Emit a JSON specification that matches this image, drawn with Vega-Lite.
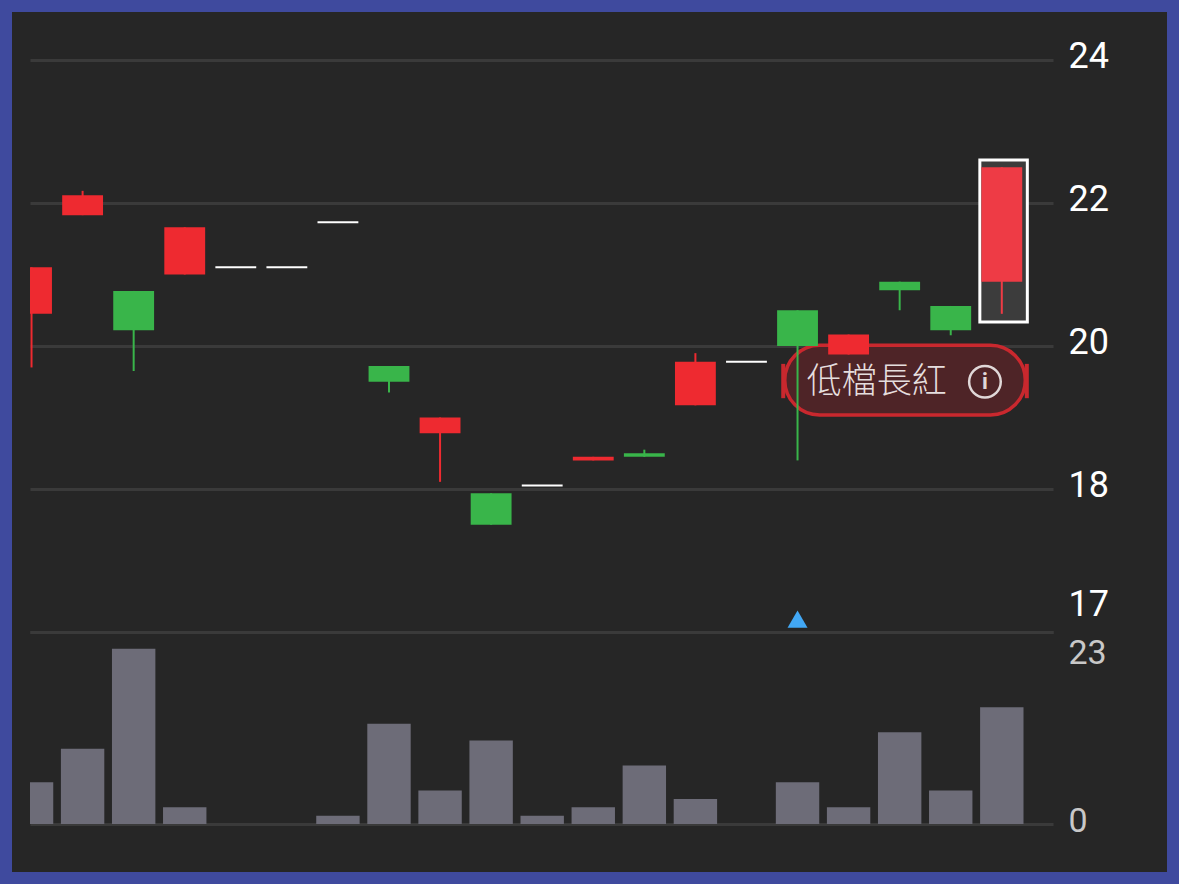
{
"$schema":"https://vega.github.io/schema/vega-lite/v6.json",
"width":1155,"height":860,"padding":12,"autosize":{"type":"none"},
"background":"#3f4a9e",
"view":{"fill":"#262626","stroke":null},
"config":{"font":"Roboto"},
"datasets":{
"candles":[
{"i":0,"open":20.45,"close":21.1,"high":21.1,"low":19.7,"kind":"up","volume":5},
{"i":1,"open":21.83,"close":22.11,"high":22.17,"low":21.83,"kind":"up","volume":9},
{"i":2,"open":20.77,"close":20.22,"high":20.77,"low":19.65,"kind":"down","volume":21},
{"i":3,"open":21.0,"close":21.66,"high":21.66,"low":21.0,"kind":"up","volume":2},
{"i":4,"open":21.1,"close":21.1,"high":21.1,"low":21.1,"kind":"flat","volume":0},
{"i":5,"open":21.1,"close":21.1,"high":21.1,"low":21.1,"kind":"flat","volume":0},
{"i":6,"open":21.73,"close":21.73,"high":21.73,"low":21.73,"kind":"flat","volume":1},
{"i":7,"open":19.72,"close":19.5,"high":19.72,"low":19.35,"kind":"down","volume":12},
{"i":8,"open":18.78,"close":19.0,"high":19.0,"low":18.1,"kind":"up","volume":4},
{"i":9,"open":17.97,"close":17.75,"high":17.97,"low":17.75,"kind":"down","volume":10},
{"i":10,"open":18.05,"close":18.05,"high":18.05,"low":18.05,"kind":"flat","volume":1},
{"i":11,"open":18.4,"close":18.45,"high":18.45,"low":18.4,"kind":"up","volume":2},
{"i":12,"open":18.5,"close":18.45,"high":18.55,"low":18.45,"kind":"down","volume":7},
{"i":13,"open":19.17,"close":19.78,"high":19.9,"low":19.17,"kind":"up","volume":3},
{"i":14,"open":19.78,"close":19.78,"high":19.78,"low":19.78,"kind":"flat","volume":0},
{"i":15,"open":20.5,"close":20.0,"high":20.5,"low":18.4,"kind":"down","volume":5},
{"i":16,"open":19.88,"close":20.16,"high":20.16,"low":19.88,"kind":"up","volume":2},
{"i":17,"open":20.9,"close":20.78,"high":20.9,"low":20.5,"kind":"down","volume":11},
{"i":18,"open":20.56,"close":20.22,"high":20.56,"low":20.15,"kind":"down","volume":4},
{"i":19,"open":20.9,"close":22.5,"high":22.5,"low":20.45,"kind":"signal","volume":14}
]},
"resolve":{"scale":{"y":"independent"},"axis":{"y":"independent"}},
"layer":[
{
"layer":[
{"data":{"values":[{"left":18.57,"right":19.5,"top":22.6,"bottom":20.335}]},
 "mark":{"type":"rect","fill":"#3c3c3c","stroke":"#ffffff","strokeWidth":3},
 "encoding":{
  "x":{"field":"left","type":"quantitative","scale":{"domain":[-0.03,22],"range":[18,1143],"clamp":true,"nice":false},"axis":null},
  "x2":{"field":"right"},
  "y":{"field":"top","type":"quantitative","scale":{"domain":[17,18,24],"range":[620,477,48],"nice":false},
   "axis":{"orient":"right","title":null,"values":[17,18,20,22,24],"format":"d","domain":false,"grid":false,"offset":-114,
    "tickSize":-1023,"tickColor":"#3a3a3a","tickWidth":3,"labelPadding":1038,"labelFontSize":36,"labelFont":"Roboto","labelColor":"#ffffff",
    "labelOffset":{"condition":{"test":"datum.value === 17","value":-28},"value":-4}}},
  "y2":{"field":"bottom"}}},
{"data":{"values":[{"left":14.75,"right":19.46,"top":20.01,"bottom":19.035}]},
 "mark":{"type":"rect","fill":"#4e2427","stroke":"#c9282e","strokeWidth":3.5,"cornerRadius":35},
 "encoding":{
  "x":{"field":"left","type":"quantitative","axis":null},"x2":{"field":"right"},
  "y":{"field":"top","type":"quantitative"},"y2":{"field":"bottom"}}},
{"data":{"values":[{"i":14.72,"top":19.75,"bottom":19.27},{"i":19.49,"top":19.75,"bottom":19.27}]},
 "mark":{"type":"rule","stroke":"#c9282e","strokeWidth":4},
 "encoding":{"x":{"field":"i","type":"quantitative","axis":null},"y":{"field":"top","type":"quantitative"},"y2":{"field":"bottom"}}},
{"data":{"name":"candles"},
 "mark":{"type":"rule","strokeWidth":2},
 "encoding":{
  "x":{"field":"i","type":"quantitative","axis":null},
  "y":{"field":"high","type":"quantitative"},"y2":{"field":"low"},
  "color":{"field":"kind","type":"nominal","legend":null,"scale":{"domain":["up","down","flat","signal"],"range":["#ee2a30","#39b54a","#ffffff","#ee3b45"]}}}},
{"data":{"name":"candles"},
 "transform":[{"filter":"datum.kind !== 'flat'"},{"calculate":"datum.i - 0.4","as":"left"},{"calculate":"datum.i + 0.4","as":"right"}],
 "mark":{"type":"rect"},
 "encoding":{
  "x":{"field":"left","type":"quantitative","axis":null},"x2":{"field":"right"},
  "y":{"field":"open","type":"quantitative"},"y2":{"field":"close"},
  "color":{"field":"kind","type":"nominal","legend":null}}},
{"data":{"name":"candles"},
 "transform":[{"filter":"datum.kind === 'flat'"},{"calculate":"datum.i - 0.4","as":"left"},{"calculate":"datum.i + 0.4","as":"right"}],
 "mark":{"type":"rule","strokeWidth":2},
 "encoding":{
  "x":{"field":"left","type":"quantitative","axis":null},"x2":{"field":"right"},
  "y":{"field":"close","type":"quantitative"},
  "color":{"field":"kind","type":"nominal","legend":null}}},
{"data":{"values":[{"i":15,"price":17.09}]},
 "mark":{"type":"point","shape":"triangle-up","filled":true,"size":400,"color":"#42a8f5","opacity":1},
 "encoding":{"x":{"field":"i","type":"quantitative","axis":null},"y":{"field":"price","type":"quantitative"}}},
{"data":{"values":[{"i":15.18,"price":19.5,"label":"低檔長紅"}]},
 "mark":{"type":"text","align":"left","baseline":"middle","font":"Noto Sans CJK TC","fontSize":35,"fontWeight":300,"color":"#e5dede"},
 "encoding":{"x":{"field":"i","type":"quantitative","axis":null},"y":{"field":"price","type":"quantitative"},"text":{"field":"label"}}},
{"data":{"values":[{"i":18.67,"price":19.5}]},
 "mark":{"type":"point","shape":"circle","size":1000,"filled":false,"stroke":"#e0d8d8","strokeWidth":2.5,"opacity":1},
 "encoding":{"x":{"field":"i","type":"quantitative","axis":null},"y":{"field":"price","type":"quantitative"}}},
{"data":{"values":[{"i":18.67,"price":19.5,"label":"i"}]},
 "mark":{"type":"text","align":"center","baseline":"middle","font":"Roboto","fontSize":22,"fontWeight":"bold","color":"#e0d8d8"},
 "encoding":{"x":{"field":"i","type":"quantitative","axis":null},"y":{"field":"price","type":"quantitative"},"text":{"field":"label"}}}
]},
{"data":{"name":"candles"},
 "transform":[{"calculate":"datum.i - 0.425","as":"left"},{"calculate":"datum.i + 0.425","as":"right"}],
 "mark":{"type":"rect","color":"#6d6c78"},
 "encoding":{
  "x":{"field":"left","type":"quantitative","axis":null},"x2":{"field":"right"},
  "y":{"field":"volume","type":"quantitative","scale":{"domain":[0,23],"range":[812,620],"nice":false},
   "axis":{"orient":"right","title":null,"values":[0,23],"domain":false,"grid":false,"offset":-114,
    "tickSize":-1023,"tickColor":"#3a3a3a","tickWidth":3,"labelPadding":1038,"labelFontSize":34,"labelFont":"Roboto","labelColor":"#c8c8c8",
    "labelOffset":{"condition":{"test":"datum.value === 23","value":21},"value":-3}}},
  "y2":{"datum":0}}}
]
}
